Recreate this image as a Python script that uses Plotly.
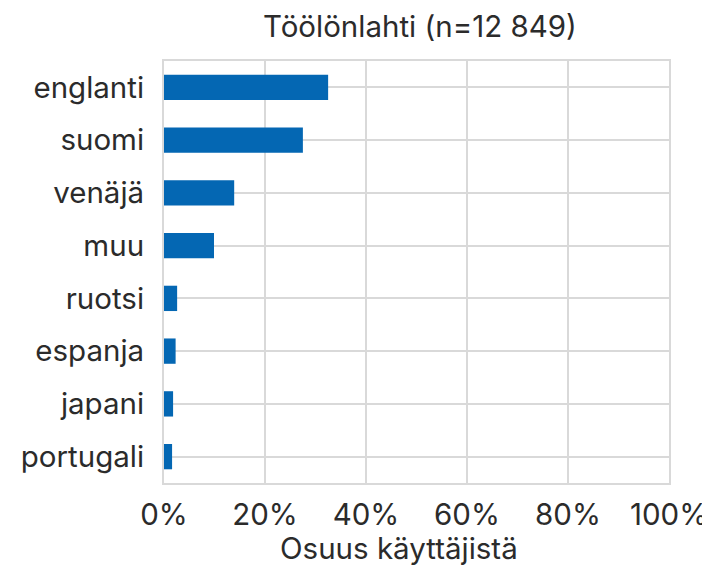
import plotly.graph_objects as go

categories = ["englanti", "suomi", "venäjä", "muu", "ruotsi", "espanja", "japani", "portugali"]
shares = [32.5, 27.5, 13.9, 9.9, 2.6, 2.3, 1.8, 1.6]
x_ticks = [0, 20, 40, 60, 80, 100]
x_tick_labels = ["0%", "20%", "40%", "60%", "80%", "100%"]
title_text = "Töölönlahti (n=12 849)"
x_title = "Osuus käyttäjistä"

FONT = "Inter, Liberation Sans, Arial, sans-serif"
TEXT = "#2b2b2b"
GRID = "#d9d9d9"
FS = 29.5

# page body has an 8px margin; figure is laid out in its own coordinates
W, H = 702, 557
L, T, PW, PH = 156, 53, 505, 422

fig = go.Figure(go.Bar(
    x=shares, y=categories, orientation="h",
    marker=dict(color="#0467b3", line=dict(width=0)),
    width=0.48,
))

fig.update_layout(
    width=W, height=H,
    margin=dict(l=L, r=W - L - PW, t=T, b=H - T - PH, autoexpand=False),
    paper_bgcolor="white", plot_bgcolor="white",
    font=dict(family=FONT, size=FS, color=TEXT),
    showlegend=False,
    title=dict(text=title_text, x=412 / W, xanchor="center", y=1 - 19 / H, yanchor="middle",
               font=dict(family=FONT, size=FS, color=TEXT)),
    xaxis=dict(range=[0, 100], tickvals=x_ticks, ticktext=x_tick_labels,
               showgrid=True, gridcolor=GRID, gridwidth=1.5,
               showline=True, linecolor=GRID, linewidth=2, mirror=True,
               zeroline=False, ticks="", ticklabelstandoff=5, automargin=False,
               tickfont=dict(size=FS)),
    yaxis=dict(categoryorder="array", categoryarray=categories[::-1],
               range=[-0.5, 7.5],
               showgrid=True, gridcolor=GRID, gridwidth=1.5,
               showline=True, linecolor=GRID, linewidth=2, mirror=True,
               ticks="", ticklabelstandoff=12, automargin=False,
               tickfont=dict(size=FS)),
    annotations=[dict(text=x_title, xref="paper", yref="paper",
                      x=(391 - L) / PW, y=-65 / PH,
                      xanchor="center", yanchor="middle", showarrow=False,
                      font=dict(family=FONT, size=FS, color=TEXT))],
)

fig.write_html("out.html")
